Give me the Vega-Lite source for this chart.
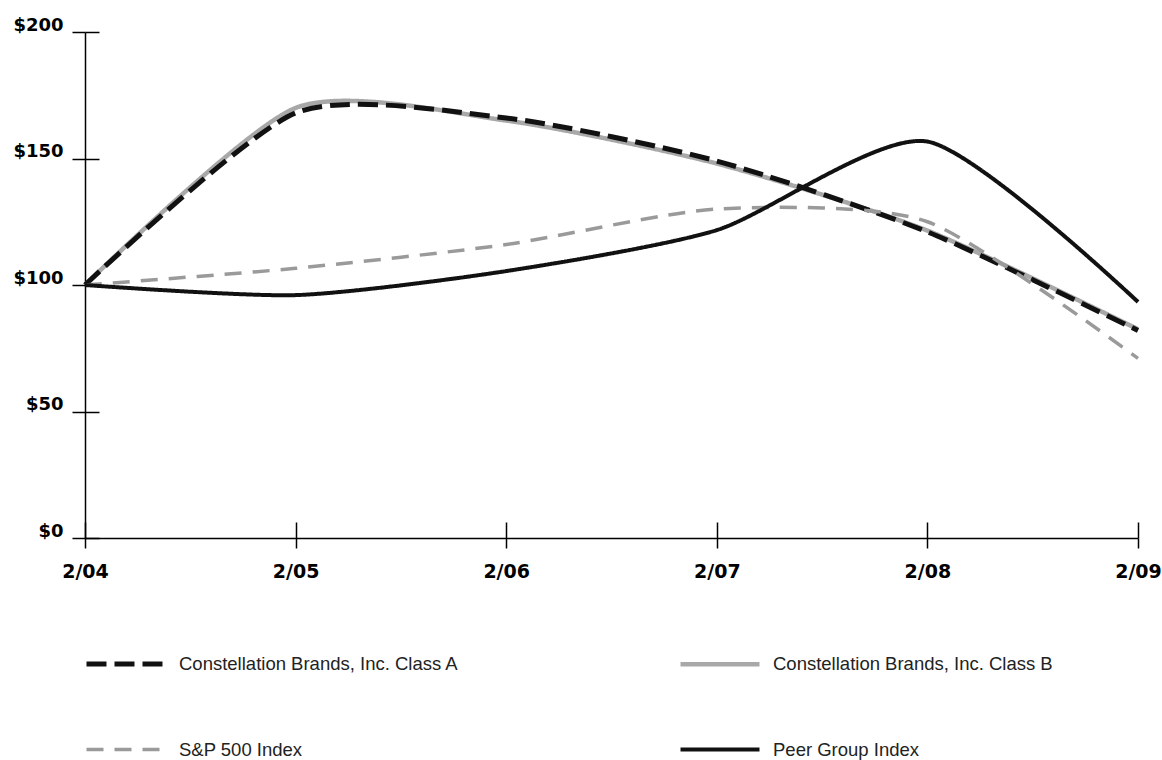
{
  "$schema": "https://vega.github.io/schema/vega-lite/v6.json",
  "autosize": {"type": "none"},
  "width": 1053,
  "height": 506,
  "padding": {"left": 85, "top": 32, "right": 24, "bottom": 222},
  "background": "white",
  "data": {
    "values": [
      {"date": "2/04", "series": "Constellation Brands, Inc. Class A", "value": 100},
      {"date": "2/05", "series": "Constellation Brands, Inc. Class A", "value": 168},
      {"date": "2/06", "series": "Constellation Brands, Inc. Class A", "value": 166},
      {"date": "2/07", "series": "Constellation Brands, Inc. Class A", "value": 149},
      {"date": "2/08", "series": "Constellation Brands, Inc. Class A", "value": 121},
      {"date": "2/09", "series": "Constellation Brands, Inc. Class A", "value": 82},
      {"date": "2/04", "series": "Constellation Brands, Inc. Class B", "value": 100},
      {"date": "2/05", "series": "Constellation Brands, Inc. Class B", "value": 170},
      {"date": "2/06", "series": "Constellation Brands, Inc. Class B", "value": 165},
      {"date": "2/07", "series": "Constellation Brands, Inc. Class B", "value": 148},
      {"date": "2/08", "series": "Constellation Brands, Inc. Class B", "value": 121.5},
      {"date": "2/09", "series": "Constellation Brands, Inc. Class B", "value": 82.5},
      {"date": "2/04", "series": "S&P 500 Index", "value": 100},
      {"date": "2/05", "series": "S&P 500 Index", "value": 106.6},
      {"date": "2/06", "series": "S&P 500 Index", "value": 116},
      {"date": "2/07", "series": "S&P 500 Index", "value": 130},
      {"date": "2/08", "series": "S&P 500 Index", "value": 125},
      {"date": "2/09", "series": "S&P 500 Index", "value": 71},
      {"date": "2/04", "series": "Peer Group Index", "value": 100},
      {"date": "2/05", "series": "Peer Group Index", "value": 96},
      {"date": "2/06", "series": "Peer Group Index", "value": 105.5},
      {"date": "2/07", "series": "Peer Group Index", "value": 121.7},
      {"date": "2/08", "series": "Peer Group Index", "value": 156.7},
      {"date": "2/09", "series": "Peer Group Index", "value": 93.3}
    ]
  },
  "encoding": {
    "x": {
      "field": "date", "type": "ordinal",
      "scale": {"type": "point", "padding": 0},
      "axis": {
        "title": null, "labelAngle": 0,
        "domainColor": "black", "domainWidth": 1.5,
        "tickColor": "black", "tickWidth": 1.5, "tickSize": 10,
        "grid": true, "gridColor": "black", "gridWidth": 1.5, "gridDash": [16, 490], "gridDashOffset": 16, "gridOpacity": 1,
        "labelFont": "DejaVu Sans", "labelFontWeight": "bold", "labelFontSize": 19, "labelColor": "black",
        "labelPadding": 14
      }
    },
    "y": {
      "field": "value", "type": "quantitative",
      "scale": {"domain": [0, 200], "nice": false, "zero": true},
      "axis": {
        "title": null, "values": [0, 50, 100, 150, 200],
        "labelExpr": "'$' + datum.value",
        "domainColor": "black", "domainWidth": 1.5,
        "tickColor": "black", "tickWidth": 1.5, "tickSize": 13,
        "grid": true, "gridColor": "black", "gridWidth": 1.5, "gridDash": [14, 3000], "gridOpacity": 1,
        "labelFont": "DejaVu Sans", "labelFontWeight": "bold", "labelFontSize": 18, "labelColor": "black",
        "labelPadding": 9, "labelOffset": -7
      }
    },
    "color": {
      "field": "series", "type": "nominal",
      "scale": {
        "domain": ["Constellation Brands, Inc. Class A", "Constellation Brands, Inc. Class B", "S&P 500 Index", "Peer Group Index"],
        "range": ["#111111", "#a8a8a8", "#9a9a9a", "#111111"]
      },
      "legend": {
        "orient": "none", "legendX": -1, "legendY": 590, "columns": 2, "direction": "horizontal", "title": null,
        "symbolType": "stroke", "symbolSize": 6241, "padding": 0,
        "labelFont": "Liberation Sans", "labelFontSize": 18.5, "labelColor": "#222222", "labelLimit": 500,
        "labelOffset": 11, "columnPadding": 212, "rowPadding": 34
      }
    },
    "strokeDash": {
      "field": "series", "type": "nominal",
      "scale": {
        "domain": ["Constellation Brands, Inc. Class A", "Constellation Brands, Inc. Class B", "S&P 500 Index", "Peer Group Index"],
        "range": [[20, 8], [1, 0], [17, 11], [1, 0]]
      },
      "legend": null
    },
    "strokeWidth": {
      "field": "series", "type": "nominal",
      "scale": {
        "type": "ordinal",
        "domain": ["Constellation Brands, Inc. Class A", "Constellation Brands, Inc. Class B", "S&P 500 Index", "Peer Group Index"],
        "range": [5, 4.5, 3.5, 4]
      },
      "legend": null
    }
  },
  "layer": [
    {"transform": [{"filter": "datum.series === 'Constellation Brands, Inc. Class B'"}], "mark": {"type": "line", "interpolate": "cardinal", "tension": 0.3}},
    {"transform": [{"filter": "datum.series === 'Constellation Brands, Inc. Class A'"}], "mark": {"type": "line", "interpolate": "cardinal", "tension": 0.3}},
    {"transform": [{"filter": "datum.series === 'S&P 500 Index'"}], "mark": {"type": "line", "interpolate": "cardinal", "tension": 0.3}},
    {"transform": [{"filter": "datum.series === 'Peer Group Index'"}], "mark": {"type": "line", "interpolate": "cardinal", "tension": 0.3}}
  ],
  "config": {"view": {"stroke": null}}
}
